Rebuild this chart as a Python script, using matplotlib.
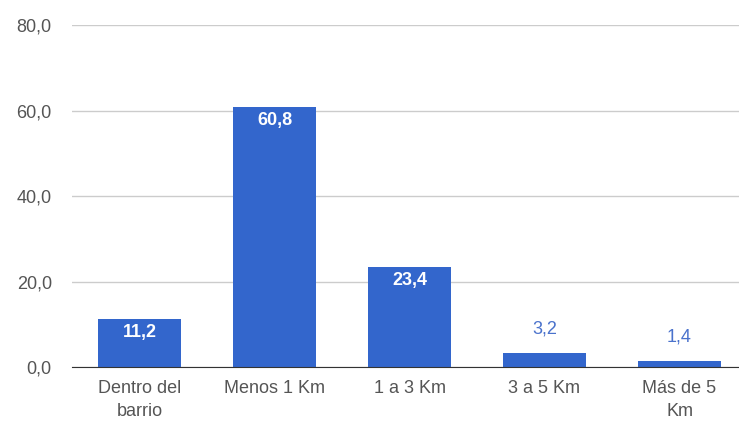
import matplotlib.pyplot as plt

plt.rcParams['font.family'] = ['Liberation Sans', 'DejaVu Sans']

# Datos del gráfico
categorias = ["Dentro del\nbarrio", "Menos 1 Km", "1 a 3 Km", "3 a 5 Km", "Más de 5\nKm"]
valores = [11.2, 60.8, 23.4, 3.2, 1.4]
ticks_y = [0, 20, 40, 60, 80]

azul = "#3366cc"

fig = plt.figure(figsize=(7.39, 4.23), dpi=100)
ax = fig.add_axes([72 / 739, 56 / 423, 675 / 739, 342 / 423])

x = list(range(len(categorias)))
ax.bar(x, valores, width=0.62, color=azul, zorder=3)

# Etiquetas de valor: dentro de la barra si cabe, encima si no
for xi, v in zip(x, valores):
    etiqueta = f"{v:.1f}".replace(".", ",")
    if v > 8:
        ax.annotate(etiqueta, (xi, v), xytext=(0, -3.5), textcoords="offset points",
                    ha="center", va="top", color="white", fontsize=13,
                    fontweight="bold", zorder=4)
    else:
        ax.annotate(etiqueta, (xi, v), xytext=(0, 11.5), textcoords="offset points",
                    ha="center", va="bottom", color="#4a72cc", fontsize=13,
                    zorder=4)

ax.set_xlim(-0.5, len(categorias) - 0.5)
ax.set_ylim(0, 80)
ax.set_yticks(ticks_y)
ax.set_yticklabels([f"{t:.1f}".replace(".", ",") for t in ticks_y])
ax.set_xticks(x)
ax.set_xticklabels(categorias, linespacing=1.5)

ax.grid(axis="y", color="#cccccc", linewidth=1, zorder=0)
for lado in ["top", "right", "left"]:
    ax.spines[lado].set_visible(False)
ax.spines["bottom"].set_color("#333333")
ax.spines["bottom"].set_zorder(5)
ax.tick_params(axis="both", length=0, labelsize=13, labelcolor="#555555")
ax.tick_params(axis="y", pad=14.5)
ax.tick_params(axis="x", pad=9)

fig.savefig("out.png", dpi=100)
